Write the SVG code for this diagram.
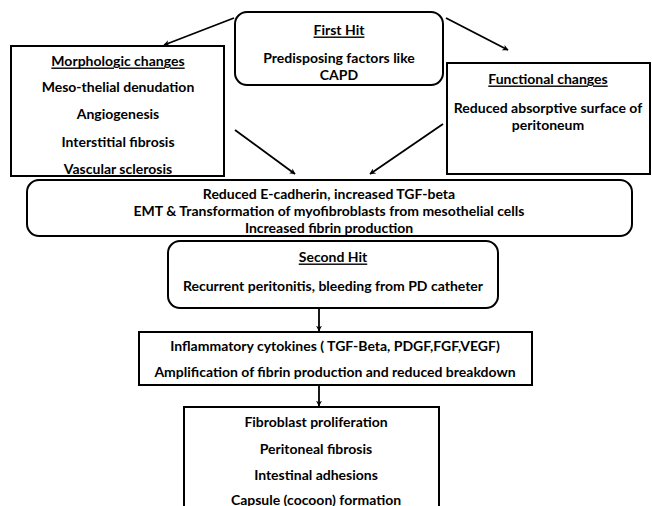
<svg xmlns="http://www.w3.org/2000/svg" width="652" height="506" viewBox="0 0 652 506">
<style>
.box{fill:#fff;stroke:#000;stroke-width:2}
text{font-family:Lato,"Liberation Sans",sans-serif;font-weight:bold;font-size:14px;fill:#000;text-anchor:middle;dominant-baseline:central}
.u{text-decoration:underline}
.c{stroke:#000;stroke-width:1.8;fill:none;marker-end:url(#ah)}
</style>
<defs>
<marker id="ah" viewBox="0 0 10 10" refX="9" refY="5" markerWidth="6" markerHeight="6" orient="auto" markerUnits="userSpaceOnUse">
<path d="M0,0 L10,5 L0,10 L3,5 Z" fill="#000"/>
</marker>
</defs>
<rect width="652" height="506" fill="#fff"/>
<g id="connectors">
<line class="c" x1="234" y1="18" x2="164" y2="45"/>
<line class="c" x1="446" y1="18" x2="508" y2="50"/>
<line class="c" x1="235" y1="130" x2="295" y2="174"/>
<line class="c" x1="443" y1="124" x2="370" y2="174"/>
<line class="c" x1="319" y1="308" x2="319" y2="331"/>
<line class="c" x1="319" y1="385" x2="319" y2="406"/>
</g>
<g id="first-hit">
<rect class="box" x="235" y="12" width="208" height="73" rx="12"/>
<text x="339" y="29" class="u">First Hit</text>
<text x="339" y="57">Predisposing factors like</text>
<text x="339" y="74">CAPD</text>
</g>
<g id="morphologic">
<rect class="box" x="11" y="46" width="213" height="130"/>
<text x="118" y="60" class="u">Morphologic changes</text>
<text x="118" y="86">Meso-thelial denudation</text>
<text x="118" y="113">Angiogenesis</text>
<text x="118" y="141">Interstitial fibrosis</text>
<text x="118" y="168">Vascular sclerosis</text>
</g>
<g id="functional">
<rect class="box" x="447" y="63" width="203" height="111"/>
<text x="548" y="78" class="u">Functional changes</text>
<text x="548" y="107">Reduced absorptive surface of</text>
<text x="548" y="124">peritoneum</text>
</g>
<g id="emt">
<rect class="box" x="27" y="180" width="605" height="56" rx="12"/>
<text x="329" y="193">Reduced E-cadherin, increased TGF-beta</text>
<text x="329" y="210">EMT &amp; Transformation of myofibroblasts from mesothelial cells</text>
<text x="329" y="227">Increased fibrin production</text>
</g>
<g id="second-hit">
<rect class="box" x="168" y="241" width="330" height="67" rx="12"/>
<text x="333" y="256" class="u">Second Hit</text>
<text x="333" y="285">Recurrent peritonitis, bleeding from PD catheter</text>
</g>
<g id="inflammatory">
<rect class="box" x="139" y="332" width="393" height="53"/>
<text x="335" y="345">Inflammatory cytokines ( TGF-Beta, PDGF,FGF,VEGF)</text>
<text x="335" y="371">Amplification of fibrin production and reduced breakdown</text>
</g>
<g id="outcome">
<rect class="box" x="184" y="407" width="255" height="110"/>
<text x="316" y="421">Fibroblast proliferation</text>
<text x="316" y="448">Peritoneal fibrosis</text>
<text x="316" y="474">Intestinal adhesions</text>
<text x="316" y="499">Capsule (cocoon) formation</text>
</g>
</svg>
